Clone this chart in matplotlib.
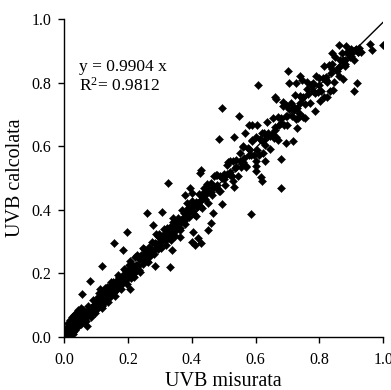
import matplotlib
matplotlib.use("Agg")
import matplotlib.pyplot as plt

# ---- data ----
core_x = [
    0.003,0.005,0.006,0.008,0.009,0.010,0.011,0.012,0.013,0.014,
    0.015,0.016,0.017,0.018,0.019,0.020,0.021,0.022,0.023,0.024,
    0.025,0.026,0.027,0.028,0.029,0.030,0.031,0.032,0.033,0.034,
    0.035,0.036,0.037,0.038,0.039,0.040,0.041,0.042,0.043,0.044,
    0.045,0.046,0.047,0.048,0.049,0.050,0.051,0.052,0.053,0.054,
    0.055,0.056,0.057,0.058,0.060,0.061,0.062,0.064,0.065,0.066,
    0.067,0.068,0.070,0.071,0.072,0.074,0.075,0.076,0.078,0.079,
    0.080,0.082,0.083,0.085,0.086,0.088,0.090,0.091,0.093,0.095,
    0.004,0.007,0.010,0.012,0.015,0.018,0.020,0.022,0.025,0.028,
    0.030,0.033,0.036,0.040,0.043,0.046,0.050,0.053,0.057,0.060,
    0.100,0.102,0.104,0.106,0.108,0.110,0.112,0.114,0.116,0.118,
    0.120,0.122,0.124,0.126,0.128,0.130,0.132,0.134,0.136,0.138,
    0.140,0.142,0.144,0.146,0.148,0.150,0.152,0.154,0.156,0.158,
    0.160,0.162,0.165,0.167,0.170,0.172,0.175,0.177,0.180,0.182,
    0.185,0.187,0.190,0.192,0.195,0.197,0.105,0.125,0.145,0.165,
    0.200,0.203,0.206,0.209,0.212,0.215,0.218,0.221,0.224,0.227,
    0.230,0.233,0.236,0.239,0.242,0.245,0.248,0.251,0.254,0.257,
    0.260,0.263,0.266,0.269,0.272,0.275,0.278,0.281,0.284,0.287,
    0.290,0.293,0.296,0.299,0.215,0.235,0.255,0.275,0.295,0.225,
    0.300,0.304,0.308,0.312,0.316,0.320,0.324,0.328,0.332,0.336,
    0.340,0.344,0.348,0.352,0.356,0.360,0.364,0.368,0.372,0.376,
    0.380,0.384,0.388,0.392,0.396,0.400,0.404,0.408,0.412,0.416,
    0.420,0.424,0.428,0.432,0.436,0.440,0.444,0.448,0.330,0.370,
    0.105,0.115,0.125,0.135,0.145,0.155,0.165,0.175,0.185,0.195,
    0.205,0.215,0.225,0.235,0.245,0.255,0.265,0.275,0.285,0.295,
    0.305,0.315,0.325,0.335,0.345,0.355,0.365,0.375,0.385,0.395,
    0.405,0.415,0.425,0.435,0.445,0.310,0.350,0.390,0.430,0.270,
    0.450,0.455,0.460,0.465,0.470,0.475,0.480,0.485,0.490,0.495,
    0.500,0.505,0.510,0.515,0.520,0.525,0.530,0.535,0.540,0.545,
    0.550,0.555,0.560,0.565,0.570,0.575,0.580,0.585,0.590,0.595,
    0.470,0.490,0.510,0.530,0.550,0.570,0.590,0.520,0.480,0.560,
    0.600,0.605,0.610,0.615,0.620,0.625,0.630,0.635,0.640,0.645,
    0.650,0.655,0.660,0.665,0.670,0.675,0.680,0.685,0.690,0.695,
    0.700,0.705,0.710,0.715,0.720,0.725,0.730,0.735,0.740,0.745,
    0.750,0.755,0.760,0.765,0.770,0.775,0.780,0.785,0.790,0.795,
    0.800,0.805,0.810,0.815,0.820,0.825,0.830,0.835,0.840,0.845,
    0.850,0.855,0.860,0.865,0.870,0.875,0.880,0.885,0.890,0.895,
    0.900,0.905,0.910,0.915,0.920,0.925,0.880,0.860,0.840,0.820,
    0.460,0.500,0.540,0.580,0.620,0.660,0.700,0.740,0.780,0.820,
    0.860,0.900,0.480,0.560,0.640,0.720,0.800,0.880,0.520,0.680,
    0.060,0.068,0.075,0.083,0.090,0.098,0.108,0.118,0.128,0.138,
    0.148,0.158,0.168,0.178,0.188,0.198,0.208,0.218,0.228,0.238,
    0.012,0.018,0.024,0.030,0.038,0.045,0.052,0.008,0.015,0.028,
    0.248,0.262,0.288,0.318,0.342,0.362,0.386,0.414,0.438,0.112,
]
core_y = [
    0.004,0.010,0.002,0.012,0.006,0.018,0.008,0.015,0.005,0.020,
    0.012,0.025,0.010,0.022,0.016,0.030,0.014,0.026,0.019,0.034,
    0.020,0.038,0.024,0.031,0.018,0.042,0.027,0.036,0.045,0.029,
    0.040,0.050,0.032,0.046,0.036,0.055,0.038,0.048,0.060,0.041,
    0.052,0.044,0.058,0.047,0.065,0.050,0.062,0.045,0.056,0.068,
    0.052,0.060,0.070,0.055,0.064,0.072,0.058,0.068,0.075,0.060,
    0.070,0.078,0.066,0.080,0.073,0.068,0.082,0.076,0.072,0.085,
    0.078,0.088,0.082,0.092,0.080,0.086,0.096,0.088,0.100,0.092,
    0.014,0.020,0.026,0.003,0.032,0.008,0.040,0.012,0.048,0.015,
    0.052,0.022,0.058,0.030,0.066,0.038,0.072,0.042,0.078,0.050,
    0.107,0.087,0.106,0.125,0.103,0.099,0.125,0.112,0.125,0.097,
    0.114,0.139,0.125,0.108,0.139,0.126,0.137,0.156,0.124,0.137,
    0.155,0.134,0.125,0.150,0.159,0.148,0.139,0.174,0.157,0.151,
    0.144,0.167,0.178,0.157,0.172,0.190,0.170,0.163,0.188,0.185,
    0.187,0.176,0.210,0.191,0.178,0.207,0.111,0.117,0.161,0.152,
    0.192,0.225,0.208,0.185,0.226,0.210,0.224,0.250,0.208,0.226,
    0.250,0.222,0.210,0.244,0.257,0.242,0.230,0.277,0.255,0.248,
    0.238,0.270,0.283,0.256,0.274,0.299,0.271,0.262,0.295,0.291,
    0.293,0.278,0.323,0.297,0.193,0.248,0.263,0.265,0.317,0.208,
    0.311,0.281,0.312,0.340,0.309,0.304,0.344,0.325,0.346,0.304,
    0.363,0.331,0.319,0.357,0.373,0.356,0.344,0.398,0.373,0.366,
    0.356,0.392,0.407,0.378,0.399,0.427,0.396,0.386,0.425,0.421,
    0.411,0.449,0.430,0.405,0.452,0.435,0.451,0.480,0.312,0.369,
    0.107,0.107,0.139,0.134,0.134,0.161,0.169,0.170,0.196,0.187,
    0.210,0.205,0.227,0.247,0.242,0.248,0.274,0.274,0.291,0.281,
    0.301,0.326,0.326,0.323,0.352,0.353,0.368,0.389,0.377,0.395,
    0.415,0.409,0.412,0.437,0.453,0.308,0.341,0.403,0.430,0.266,
    0.420,0.465,0.483,0.447,0.473,0.508,0.470,0.459,0.505,0.501,
    0.513,0.477,0.514,0.549,0.511,0.505,0.554,0.532,0.557,0.506,
    0.554,0.534,0.597,0.563,0.539,0.593,0.591,0.571,0.620,0.572,
    0.505,0.460,0.540,0.490,0.580,0.535,0.615,0.555,0.510,0.600,
    0.630,0.588,0.572,0.622,0.643,0.620,0.604,0.675,0.641,0.632,
    0.638,0.689,0.662,0.629,0.692,0.668,0.690,0.728,0.666,0.694,
    0.668,0.716,0.735,0.696,0.724,0.761,0.719,0.706,0.757,0.751,
    0.755,0.732,0.801,0.763,0.736,0.794,0.792,0.769,0.822,0.770,
    0.814,0.775,0.815,0.852,0.810,0.803,0.856,0.831,0.858,0.803,
    0.880,0.838,0.822,0.872,0.893,0.870,0.854,0.915,0.891,0.882,
    0.885,0.900,0.872,0.905,0.895,0.910,0.860,0.848,0.842,0.818,
    0.455,0.498,0.535,0.572,0.618,0.652,0.695,0.735,0.775,0.810,
    0.850,0.892,0.478,0.552,0.632,0.715,0.792,0.872,0.518,0.672,
    0.085,0.050,0.098,0.062,0.115,0.075,0.138,0.090,0.155,0.110,
    0.172,0.130,0.195,0.150,0.215,0.168,0.238,0.190,0.258,0.205,
    0.045,0.052,0.062,0.070,0.075,0.085,0.092,0.032,0.040,0.008,
    0.280,0.235,0.325,0.290,0.375,0.335,0.420,0.382,0.470,0.150,
]
outlier_x = [
    0.071,0.055,0.082,0.118,0.157,0.186,0.207,0.196,0.259,0.306,
    0.278,0.285,0.332,0.337,0.364,0.400,0.410,0.420,0.405,0.430,
    0.327,0.393,0.400,0.379,0.426,0.430,0.451,0.461,0.468,0.494,
    0.586,0.496,0.547,0.578,0.590,0.605,0.567,0.534,0.486,0.625,
    0.607,0.705,0.701,0.534,0.680,0.680,0.616,0.619,0.600,0.600,
    0.600,0.629,0.644,0.624,0.695,0.716,0.659,0.671,0.999,0.959,
    0.964,0.863,0.840,0.919,0.909,0.844,0.834,0.823,0.815,0.803,
    0.787,0.740,0.745,0.727,0.661,0.664,0.687,0.694,0.749,0.734,
    0.727,0.874,0.888,0.900,0.912,0.920,0.930,0.755,0.729,0.875,
    0.780,0.760,
]
outlier_y = [
    0.035,0.135,0.177,0.223,0.295,0.274,0.150,0.331,0.389,0.392,
    0.351,0.223,0.221,0.274,0.315,0.300,0.290,0.310,0.330,0.295,
    0.485,0.469,0.452,0.447,0.516,0.525,0.336,0.357,0.389,0.418,
    0.387,0.719,0.695,0.667,0.667,0.667,0.641,0.630,0.623,0.641,
    0.792,0.798,0.837,0.473,0.468,0.559,0.504,0.490,0.553,0.538,
    0.521,0.553,0.590,0.578,0.611,0.617,0.625,0.620,0.918,0.921,
    0.904,0.918,0.893,0.798,0.774,0.777,0.774,0.756,0.756,0.743,
    0.712,0.821,0.810,0.798,0.756,0.748,0.740,0.730,0.693,0.690,
    0.685,0.812,0.895,0.905,0.902,0.895,0.898,0.688,0.656,0.865,
    0.800,0.780,
]
slope = 0.9904
r2 = 0.9812
fit_x = [0.0, 1.0]
ticks = [0.0, 0.2, 0.4, 0.6, 0.8, 1.0]
tick_labels = ["0.0", "0.2", "0.4", "0.6", "0.8", "1.0"]

plt.rcParams['font.family'] = ['Liberation Serif', 'DejaVu Serif']
plt.rcParams['mathtext.fontset'] = 'custom'
plt.rcParams['mathtext.rm'] = 'Liberation Serif'
plt.rcParams['mathtext.it'] = 'Liberation Serif'

fig = plt.figure(figsize=(3.91, 3.90), dpi=100)
ax = fig.add_axes([0.164, 0.136, 0.816, 0.815])

ax.scatter(core_x + outlier_x, core_y + outlier_y, marker='D', s=17,
           color='black', linewidths=0.3, edgecolors='black', zorder=2)
ax.plot(fit_x, [slope * v for v in fit_x], color='black', lw=1.0, zorder=3)

ax.set_xlim(0, 1.0)
ax.set_ylim(0, 1.0)
ax.set_xticks(ticks)
ax.set_xticklabels(tick_labels)
ax.set_yticks(ticks)
ax.set_yticklabels(tick_labels)
ax.tick_params(direction='out', length=4, width=1, labelsize=11.5, colors='black')
ax.tick_params(axis='x', pad=6.5)
ax.tick_params(axis='y', pad=5)
for s in ['top', 'right']:
    ax.spines[s].set_visible(False)
for s in ['left', 'bottom']:
    ax.spines[s].set_linewidth(1)

ax.set_xlabel("UVB misurata", fontsize=14.5, labelpad=3)
ax.set_ylabel("UVB calcolata", fontsize=14.5, labelpad=5)

ax.text(0.047, 0.836, f"y = {slope:.4f} x", fontsize=12.5, va='baseline', ha='left')
ax.text(0.047, 0.774, f"R$^{{2}}$= {r2:.4f}", fontsize=12.5, va='baseline', ha='left')

fig.savefig("out.png", dpi=100)
